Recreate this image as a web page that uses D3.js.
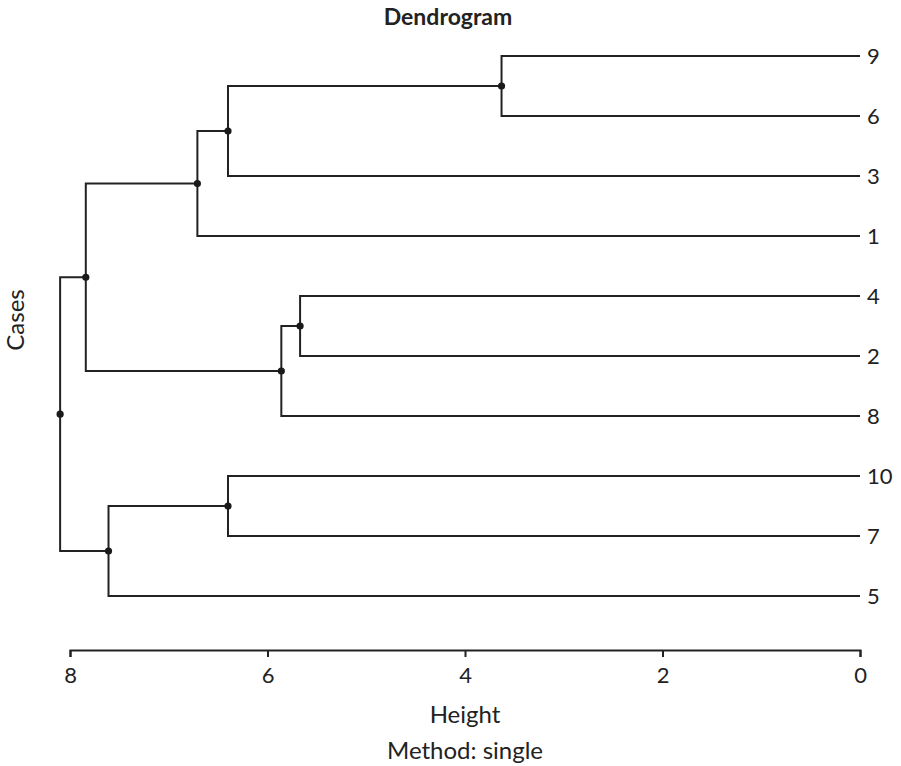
<!DOCTYPE html>
<html>
<head>
<meta charset="utf-8">
<script src="https://cdn.jsdelivr.net/npm/d3@7"></script>
<style>
  body { margin: 0; background: #fff; }
  svg text { font-family: Lato, "Noto Sans", sans-serif; fill: #222; }
</style>
</head>
<body>
<div id="chart"></div>
<script>
// leaves top to bottom, as drawn
const leafOrder = ["9", "6", "3", "1", "4", "2", "8", "10", "7", "5"];
// merge steps: "mN" refers to the N-th merge (1-based)
const mergePairs = [
    ["9", "6"], ["m1", "3"], ["m2", "1"],
    ["4", "2"], ["m4", "8"], ["m3", "m5"],
    ["10", "7"], ["m7", "5"], ["m6", "m8"]
];
const mergeHeights = [3.63, 6.40, 6.71, 5.67, 5.86, 7.84, 6.40, 7.61, 8.10];
const heightTicks = [8, 6, 4, 2, 0];

const W = 901, H = 766;
const margin = {top: 56, right: 41, bottom: 170, left: 70};

const svg = d3.select('#chart').append('svg')
    .attr('width', W)
    .attr('height', H);

// build nested tree from the merge list
const nodes = {};
leafOrder.forEach(k => nodes[k] = {name: k, height: 0});
mergePairs.forEach((p, i) => {
    nodes['m' + (i + 1)] = {
        name: 'm' + (i + 1),
        height: mergeHeights[i],
        children: p.map(k => nodes[k])
    };
});
const root = d3.hierarchy(nodes['m' + mergePairs.length]);

const xScale = d3.scaleLinear()
    .domain([8, 0])
    .range([margin.left, W - margin.right]);

const yScale = d3.scalePoint()
    .domain(leafOrder)
    .range([margin.top, H - margin.bottom]);

// y of internal nodes = mean of children
root.eachAfter(d => {
    d.px = xScale(d.data.height);
    d.py = d.children ? d3.mean(d.children, c => c.py) : yScale(d.data.name);
});

const g = svg.append('g');

// elbow links
g.selectAll('.link')
    .data(root.links())
    .join('path')
    .attr('class', 'link')
    .attr('fill', 'none')
    .attr('stroke', '#222')
    .attr('stroke-width', 2)
    .attr('d', l => `M${l.source.px},${l.source.py}V${l.target.py}H${l.target.px}`);

// dots at merge points
g.selectAll('.node')
    .data(root.descendants().filter(d => d.children))
    .join('circle')
    .attr('class', 'node')
    .attr('cx', d => d.px)
    .attr('cy', d => d.py)
    .attr('r', 3.6)
    .attr('fill', '#1a1a1a');

// leaf labels
g.selectAll('.leaf-label')
    .data(root.leaves())
    .join('text')
    .attr('class', 'leaf-label')
    .attr('x', d => d.px + 7)
    .attr('y', d => d.py)
    .attr('dy', '0.36em')
    .attr('font-size', 22)
    .text(d => d.data.name);

// x axis
const xAxis = d3.axisBottom(xScale)
    .tickValues(heightTicks)
    .tickSize(7)
    .tickSizeOuter(7)
    .tickFormat(d3.format('d'));

const axisG = svg.append('g')
    .attr('transform', `translate(0,650)`)
    .call(xAxis);
axisG.select('.domain').attr('stroke', '#222').attr('stroke-width', 2);
axisG.selectAll('.tick line').attr('stroke', '#222').attr('stroke-width', 2);
axisG.selectAll('.tick text')
    .attr('font-size', 22)
    .attr('font-family', 'Lato, sans-serif')
    .attr('fill', '#222')
    .attr('y', 17);

// titles
svg.append('text')
    .attr('x', 448)
    .attr('y', 25)
    .attr('text-anchor', 'middle')
    .attr('font-size', 23)
    .attr('font-weight', 'bold')
    .text('Dendrogram');

svg.append('text')
    .attr('x', 465)
    .attr('y', 723)
    .attr('text-anchor', 'middle')
    .attr('font-size', 24)
    .text('Height');

svg.append('text')
    .attr('x', 465)
    .attr('y', 759)
    .attr('text-anchor', 'middle')
    .attr('font-size', 24)
    .text('Method: single');

svg.append('text')
    .attr('transform', 'translate(24,320) rotate(-90)')
    .attr('text-anchor', 'middle')
    .attr('font-size', 24)
    .text('Cases');
</script>
</body>
</html>
